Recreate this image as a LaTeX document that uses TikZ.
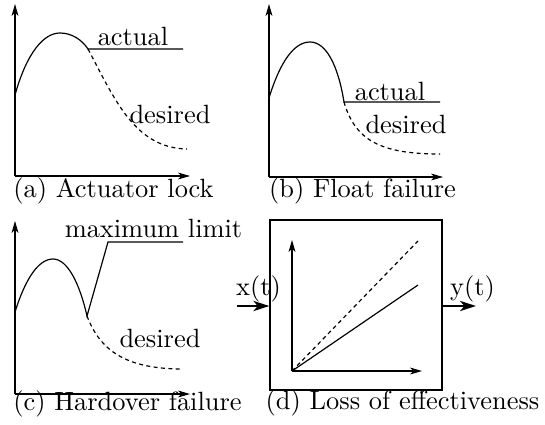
\documentclass[tikz,border=0pt]{standalone}
\usetikzlibrary{arrows.meta}
\begin{document}
\begin{tikzpicture}[x=0.3788pt,y=-0.3788pt,
  axis/.style={line width=0.4pt,-{Stealth[length=4.5pt,width=2.6pt,inset=1.2pt]}},
  curve/.style={line width=0.45pt},
  dcurve/.style={line width=0.45pt,dash pattern=on 1.5pt off 1.3pt},
  sig/.style={line width=1pt,-{Stealth[length=6pt,width=3.8pt,inset=1.6pt]}},
  lbl/.style={inner sep=0pt,anchor=base,font=\fontsize{10}{12}\selectfont},
  captxt/.style={inner sep=0pt,anchor=base,font=\fontsize{10}{12}\selectfont}]
\useasboundingbox (0,0) rectangle (545,424);

% ---------- (a) Actuator lock ----------
\coordinate (aO) at (15,176);
\coordinate (aY) at (15,4);
\coordinate (aX) at (190,176);
\draw[axis] (aO) -- (aY);
\draw[axis] (aO) -- (aX);
\coordinate (aS) at (15,95);
\coordinate (aP) at (60,33);
\coordinate (aF) at (88,49);
\coordinate (aE) at (183,49);
\coordinate (aD) at (187,149);
\draw[curve] (aS) .. controls (27,52) and (44,33) .. (aP)
  .. controls (72,33) and (82,40) .. (aF) -- (aE);
\draw[dcurve] (aF) .. controls (115,100) and (135,148) .. (aD);
\node[lbl] (aact) at (133,46) {actual};
\node[lbl] (ades) at (170,123) {desired};
\node[captxt] (acap) at (113.5,197) {(a) Actuator lock};

% ---------- (b) Float failure ----------
\coordinate (bO) at (269,177);
\coordinate (bY) at (269,4);
\coordinate (bX) at (443,177);
\draw[axis] (bO) -- (bY);
\draw[axis] (bO) -- (bX);
\coordinate (bS) at (269,98);
\coordinate (bP) at (310,42);
\coordinate (bF) at (344,102);
\coordinate (bE) at (440,102);
\coordinate (bD) at (440,154);
\draw[curve] (bS) .. controls (280,62) and (294,42) .. (bP)
  .. controls (326,42) and (338,65) .. (bF) -- (bE);
\draw[dcurve] (bF) .. controls (355,140) and (380,154) .. (bD);
\node[lbl] (bact) at (390,100) {actual};
\node[lbl] (bdes) at (406,133) {desired};
\node[captxt] (bcap) at (362.5,197) {(b) Float failure};

% ---------- (c) Hardover failure ----------
\coordinate (cO) at (15,394);
\coordinate (cY) at (15,221);
\coordinate (cX) at (190,394);
\draw[axis] (cO) -- (cY);
\draw[axis] (cO) -- (cX);
\coordinate (cS) at (15,312);
\coordinate (cP) at (53,259);
\coordinate (cF) at (87,316);
\coordinate (cC) at (108,242);
\coordinate (cE) at (183,242);
\coordinate (cD) at (183,369);
\draw[curve] (cS) .. controls (25,280) and (38,259) .. (cP)
  .. controls (68,259) and (80,285) .. (cF) -- (cC) -- (cE);
\draw[dcurve] (cF) .. controls (100,350) and (125,369) .. (cD);
\node[lbl] (cmax) at (153.5,237) {maximum limit};
\node[lbl] (cdes) at (160,347) {desired};
\node[captxt] (ccap) at (127.5,410) {(c) Hardover failure};

% ---------- (d) Loss of effectiveness ----------
\node[draw,line width=0.45pt,minimum width=172*0.3788pt,minimum height=170*0.3788pt,inner sep=0pt] (box) at (356,305) {};
\coordinate (dO) at (292,371);
\coordinate (dY) at (292,240);
\coordinate (dX) at (422,371);
\draw[axis] (dO) -- (dY);
\draw[axis] (dO) -- (dX);
\coordinate (dA) at (418,241);
\coordinate (dB) at (418,285);
\draw[dcurve] (dO) -- (dA);
\draw[curve] (dO) -- (dB);
\coordinate (xin) at (237,306);
\coordinate (yout) at (476,306);
\draw[sig] (xin) -- (box.west |- xin);
\draw[sig] (box.east |- yout) -- (yout);
\node[lbl] (xl) at (258.5,295) {x(t)};
\node[lbl] (yl) at (472.5,295) {y(t)};
\node[captxt] (dcap) at (402.5,409) {(d) Loss of effectiveness};
\end{tikzpicture}
\end{document}
